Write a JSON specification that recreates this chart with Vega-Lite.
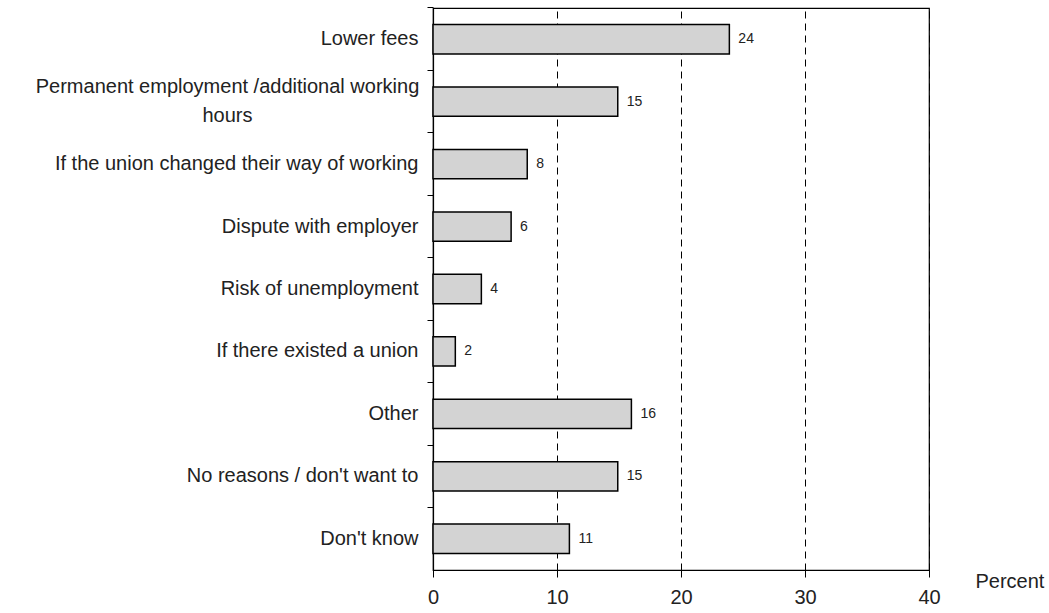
{
  "$schema": "https://vega.github.io/schema/vega-lite/v6.json",
  "width": 496,
  "height": 562,
  "autosize": {"type": "none"},
  "padding": {"left": 433, "top": 8, "right": 120, "bottom": 43},
  "background": "white",
  "config": {
    "font": "Liberation Sans",
    "view": {"stroke": "black", "strokeWidth": 1.2},
    "axis": {"labelFont": "Liberation Sans", "titleFont": "Liberation Sans", "labelColor": "#222", "titleColor": "#222", "domainColor": "black", "tickColor": "black", "domainWidth": 1.2, "tickWidth": 1}
  },
  "data": {
    "values": [
      {"reason": "Lower fees", "pct": 23.9},
      {"reason": "Permanent employment /additional working|hours", "pct": 14.9},
      {"reason": "If the union changed their way of working", "pct": 7.6},
      {"reason": "Dispute with employer", "pct": 6.3},
      {"reason": "Risk of unemployment", "pct": 3.9},
      {"reason": "If there existed a union", "pct": 1.8},
      {"reason": "Other", "pct": 16.0},
      {"reason": "No reasons / don't want to", "pct": 14.9},
      {"reason": "Don't know", "pct": 11.0}
    ]
  },
  "encoding": {
    "y": {
      "field": "reason", "type": "nominal", "sort": null,
      "scale": {"paddingInner": 0.53, "paddingOuter": 0.265},
      "axis": {
        "title": null, "labelFontSize": 20, "tickSize": 6, "bandPosition": -0.564, "grid": false,
        "labelExpr": "split(datum.label, '|')", "labelLineHeight": 29, "labelLimit": 0,
        "labelPadding": {"condition": {"test": "indexof(datum.value, '|') >= 0", "value": 200}, "value": 9},
        "labelAlign": {"condition": {"test": "indexof(datum.value, '|') >= 0", "value": "center"}, "value": "right"},
        "labelOffset": {"condition": {"test": "indexof(datum.value, '|') >= 0", "value": -15}, "value": 0}
      }
    },
    "x": {
      "field": "pct", "type": "quantitative",
      "scale": {"domain": [0, 40], "nice": false},
      "axis": {"values": [0, 10, 20, 30, 40], "title": "Percent", "titleFontSize": 20, "titleFontWeight": "normal", "titleAlign": "left", "titleBaseline": "middle", "titleX": 542, "titleY": 11, "labelFontSize": 20, "labelPadding": 10, "tickSize": 7, "grid": true, "gridColor": "black", "gridDash": [7, 5], "gridWidth": 1, "labelFlush": false}
    }
  },
  "layer": [
    {"mark": {"type": "bar", "fill": "#d3d3d3", "stroke": "black", "strokeWidth": 1.5}},
    {"mark": {"type": "text", "align": "left", "baseline": "middle", "dx": 9, "fontSize": 14, "color": "#222"},
     "encoding": {"text": {"field": "pct", "type": "quantitative", "format": ".0f"}}}
  ]
}
